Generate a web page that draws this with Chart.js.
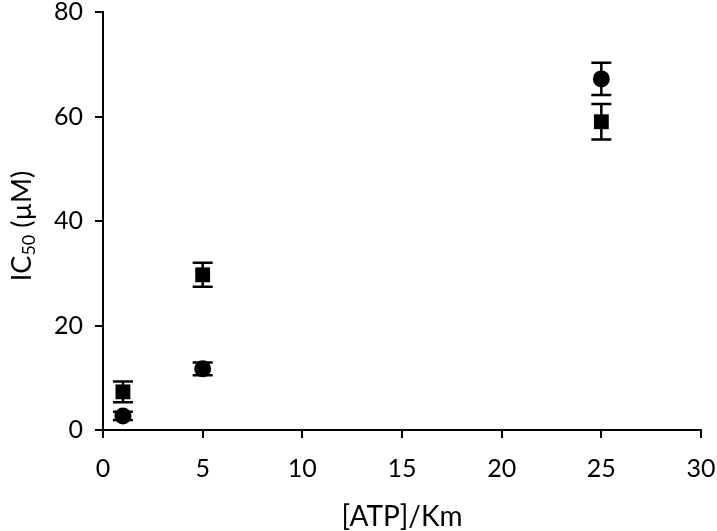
<!DOCTYPE html>
<html>
<head>
<meta charset="utf-8">
<script src="https://cdn.jsdelivr.net/npm/chart.js@4"></script>
<style>
  html, body { margin: 0; padding: 0; background: #fff; }
</style>
</head>
<body>
<canvas id="chart" width="717" height="531"></canvas>
<script>
// data
const atpRatio = [1, 5, 25];
const squareVals = [7.3, 29.7, 59.0];
const squareErr = [2.0, 2.3, 3.4];
const circleVals = [2.7, 11.7, 67.2];
const circleErr = [0.8, 1.2, 3.1];
const xTicks = [0, 5, 10, 15, 20, 25, 30];
const yTicks = [0, 20, 40, 60, 80];

const FONT = "Lato, 'Open Sans', sans-serif";

// error bars with caps
const errorBars = {
  id: "errorBars",
  afterDatasetsDraw(chart) {
    const ctx = chart.ctx;
    const xs = chart.scales.x, ys = chart.scales.y;
    ctx.save();
    ctx.strokeStyle = "#000";
    ctx.lineWidth = 2.5;
    chart.data.datasets.forEach(ds => {
      ds.data.forEach((p, i) => {
        const px = xs.getPixelForValue(p.x);
        const top = ys.getPixelForValue(p.y + ds.errs[i]);
        const bot = ys.getPixelForValue(p.y - ds.errs[i]);
        ctx.beginPath();
        ctx.moveTo(px, top); ctx.lineTo(px, bot);
        ctx.moveTo(px - 10, top); ctx.lineTo(px + 10, top);
        ctx.moveTo(px - 10, bot); ctx.lineTo(px + 10, bot);
        ctx.stroke();
      });
    });
    ctx.restore();
  }
};

// y title with subscript
const yTitle = {
  id: "yTitle",
  afterDraw(chart) {
    const ctx = chart.ctx;
    const cy = (chart.chartArea.top + chart.chartArea.bottom) / 2 + 5;
    ctx.save();
    ctx.translate(22, cy);
    ctx.rotate(-Math.PI / 2);
    ctx.fillStyle = "#000";
    ctx.textBaseline = "middle";
    const big = "27px " + FONT, small = "18px " + FONT;
    ctx.font = big;
    const w1 = ctx.measureText("IC").width;
    const w3 = ctx.measureText(" (\u00b5M)").width;
    ctx.font = small;
    const w2 = ctx.measureText("50").width;
    let x = -(w1 + w2 + w3) / 2;
    ctx.font = big;
    ctx.fillText("IC", x, 0);
    x += w1;
    ctx.font = small;
    ctx.fillText("50", x, 7);
    x += w2;
    ctx.font = big;
    ctx.fillText(" (\u00b5M)", x, 0);
    ctx.restore();
  }
};

const toPts = vals => atpRatio.map((x, i) => ({ x: x, y: vals[i] }));

new Chart(document.getElementById("chart").getContext("2d"), {
  type: "scatter",
  data: {
    datasets: [
      {
        label: "squares",
        data: toPts(squareVals),
        errs: squareErr,
        pointStyle: "rect",
        pointRadius: 10.5,
        backgroundColor: "#000",
        borderColor: "#000",
        borderWidth: 0,
      },
      {
        label: "circles",
        data: toPts(circleVals),
        errs: circleErr,
        pointStyle: "circle",
        pointRadius: 8.5,
        backgroundColor: "#000",
        borderColor: "#000",
        borderWidth: 0,
      },
    ],
  },
  options: {
    responsive: false,
    animation: false,
    layout: { padding: { left: 0, right: 0, top: 0, bottom: 0 } },
    plugins: {
      legend: { display: false },
      tooltip: { enabled: false },
    },
    scales: {
      x: {
        type: "linear",
        min: 0, max: 30,
        afterBuildTicks: s => { s.ticks = xTicks.map(v => ({ value: v })); },
        afterFit: s => { s.height = 101; s.paddingRight = 16; },
        border: { color: "#000", width: 2 },
        grid: { drawOnChartArea: false, drawTicks: true, tickLength: 8, color: "#000", lineWidth: 2 },
        ticks: { color: "#000", padding: 16, font: { family: FONT, size: 25 } },
        title: { display: true, text: "[ATP]/Km", color: "#000", padding: { top: 0, bottom: -3 }, font: { family: FONT, size: 28 } },
      },
      y: {
        type: "linear",
        min: 0, max: 80,
        afterBuildTicks: s => { s.ticks = yTicks.map(v => ({ value: v })); },
        afterFit: s => { s.width = 103; s.paddingTop = 12; },
        border: { color: "#000", width: 2 },
        grid: { drawOnChartArea: false, drawTicks: true, tickLength: 8, color: "#000", lineWidth: 2 },
        ticks: { color: "#000", padding: 12, font: { family: FONT, size: 25 } },
      },
    },
  },
  plugins: [errorBars, yTitle],
});
</script>
</body>
</html>
